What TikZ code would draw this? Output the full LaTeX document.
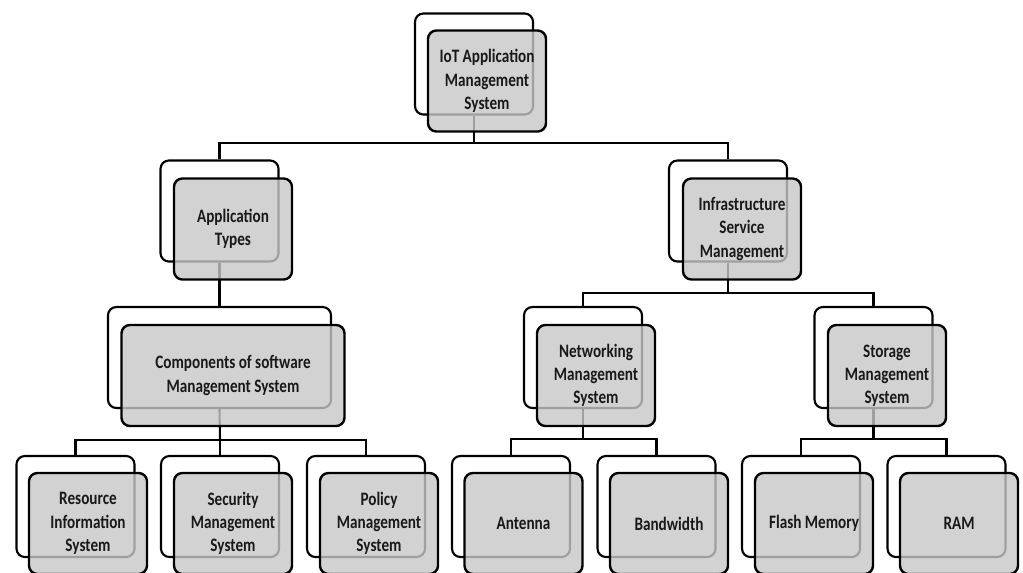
\documentclass[tikz,border=0pt]{standalone}
\usepackage{fontspec}
\setmainfont{Carlito}[FakeStretch=0.8]
\usepackage{xcolor}
\usepackage{tikz}

\begin{document}
\begin{tikzpicture}[x=0.025cm, y=-0.025cm,
    back/.style={rectangle, rounded corners=6pt, draw, line width=1.5pt, fill=white, minimum width=2.95cm, minimum height=2.525cm},
    front/.style={back, fill=black!22, fill opacity=0.8, text opacity=1, line width=1.7pt, align=center, text=black!90, font=\bfseries\fontsize{13.5}{16.5}\selectfont},
    wide/.style={minimum width=5.575cm},
    conn/.style={line width=1.5pt}]
    \useasboundingbox (0,0) rectangle (1023,572);
    \clip (0,0) rectangle (1023,572);
        % back boxes
        \node at (474,64) [back] (rootb) {};
        \node at (219.5,211) [back] (appb) {};
        \node at (728,211) [back] (infrab) {};
        \node at (219.5,357.5) [back, wide] (compb) {};
        \node at (583,357.5) [back] (netb) {};
        \node at (873.5,357.5) [back] (storb) {};
        \node at (75.5,506.5) [back] (resb) {};
        \node at (220,506.5) [back] (secb) {};
        \node at (366,506.5) [back] (polb) {};
        \node at (511,506.5) [back] (antb) {};
        \node at (656.5,506.5) [back] (bandb) {};
        \node at (801,506.5) [back] (flashb) {};
        \node at (946.5,506.5) [back] (ramb) {};
        % bars
        \coordinate (bar1) at (474,143);
        \coordinate (bar2) at (728,293);
        \coordinate (bar3) at (220,440);
        \coordinate (bar4) at (583,439);
        \coordinate (bar5) at (873.5,439);
        \draw[conn] (rootb.south) -- (bar1) -| (appb.north);
        \draw[conn] (bar1) -| (infrab.north);
        \draw[conn] (appb.south) -- (compb.north);
        \draw[conn] (infrab.south) -- (bar2) -| (netb.north);
        \draw[conn] (bar2) -| (storb.north);
        \draw[conn] (compb.south) -- (bar3);
        \foreach \n in {resb, secb, polb}
            \draw[conn] (bar3) -| (\n.north);
        \draw[conn] (netb.south) -- (bar4);
        \foreach \n in {antb, bandb}
            \draw[conn] (bar4) -| (\n.north);
        \draw[conn] (storb.south) -- (bar5);
        \foreach \n in {flashb, ramb}
            \draw[conn] (bar5) -| (\n.north);
        % front boxes
        \node at (487,81) [front] (root) {IoT Application\\Management\\System};
        \node at (233,229) [front] (app) {Application\\Types};
        \node at (742,229) [front] (infra) {Infrastructure\\Service\\Management};
        \node at (233,375.5) [front, wide] (comp) {Components of software\\Management System};
        \node at (596,375.5) [front] (net) {Networking\\Management\\System};
        \node at (887,375.5) [front] (stor) {Storage\\Management\\System};
        \node at (88,523.5) [front] (res) {Resource\\Information\\System};
        \node at (233,523.5) [front] (sec) {Security\\Management\\System};
        \node at (379,523.5) [front] (pol) {Policy\\Management\\System};
        \node at (523.5,523.5) [front] (ant) {Antenna};
        \node at (669,523.5) [front] (band) {Bandwidth};
        \node at (814,523.5) [front] (flash) {Flash Memory};
        \node at (959,523.5) [front] (ram) {RAM};
\end{tikzpicture}
\end{document}
